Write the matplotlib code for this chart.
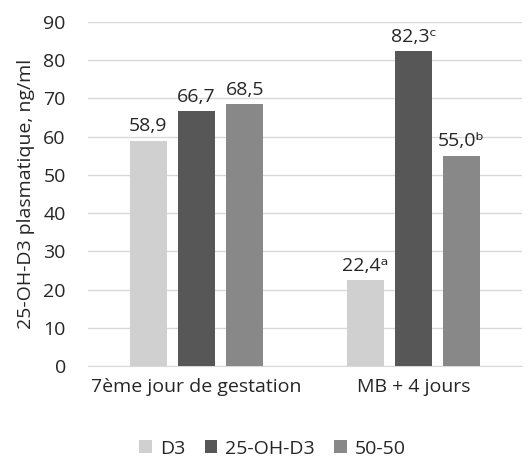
import numpy as np
import matplotlib.pyplot as plt

plt.rcParams['font.family'] = ['Open Sans', 'DejaVu Sans']

categories = ['7ème jour de gestation', 'MB + 4 jours']
series = ['D3', '25-OH-D3', '50-50']
values = {
    'D3': [58.9, 22.4],
    '25-OH-D3': [66.7, 82.3],
    '50-50': [68.5, 55.0],
}
labels = {
    'D3': ['58,9', '22,4ᵃ'],
    '25-OH-D3': ['66,7', '82,3ᶜ'],
    '50-50': ['68,5', '55,0ᵇ'],
}
colors = ['#d0d0d0', '#575757', '#888888']
text_col = '#262626'
fs = 14

fig = plt.figure(figsize=(5.31, 4.58), dpi=100)
ax = fig.add_axes([88 / 531, 1 - 366 / 458, 434 / 531, 344 / 458])

x = np.arange(len(categories))
w = 0.172
step = 0.222
for i, s in enumerate(series):
    pos = x + (i - 1) * step
    bars = ax.bar(pos, values[s], width=w, color=colors[i], label=s, zorder=3)
    for b, t in zip(bars, labels[s]):
        ax.annotate(t, (b.get_x() + b.get_width() / 2, b.get_height()),
                    xytext=(0, 4), textcoords='offset points', ha='center', va='bottom',
                    fontsize=fs, color=text_col)

ax.set_xlim(-0.5, 1.5)
ax.set_ylim(0, 90)
ax.set_yticks(range(0, 91, 10))
ax.set_xticks(x)
ax.set_xticklabels(categories)
ax.tick_params(axis='both', length=0, labelsize=fs, colors=text_col)
ax.tick_params(axis='x', pad=9)
ax.tick_params(axis='y', pad=16)
ax.grid(axis='y', color='#d9d9d9', linewidth=1, zorder=0)
for sp in ['top', 'right', 'left']:
    ax.spines[sp].set_visible(False)
ax.spines['bottom'].set_color('#d9d9d9')
ax.set_ylabel('25-OH-D3 plasmatique, ng/ml', fontsize=fs, color=text_col, labelpad=6)

ax.legend(loc='center', bbox_to_anchor=(0.425, -0.24), ncol=3, frameon=False,
          fontsize=fs, handlelength=0.65, handleheight=0.65, handletextpad=0.4,
          columnspacing=1.0, labelcolor=text_col)

fig.savefig('out.png', dpi=100)
